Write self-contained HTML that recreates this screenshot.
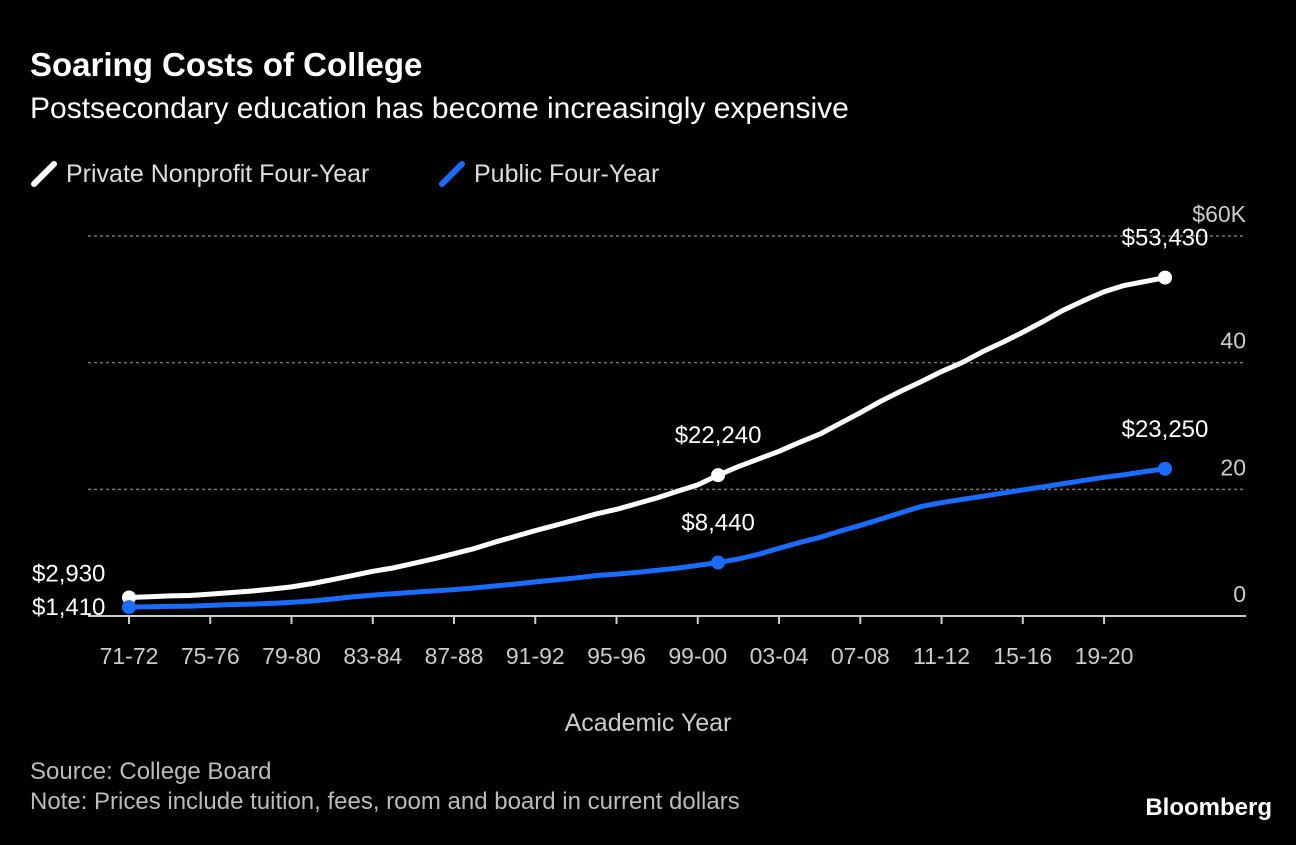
<!DOCTYPE html>
<html><head><meta charset="utf-8"><style>
body{margin:0;background:#000;width:1296px;height:840px;overflow:hidden;font-family:"Liberation Sans",sans-serif;color:#fff}
svg text{font-family:"Liberation Sans",sans-serif}
</style></head><body>
<svg width="1296" height="840">
<text x="30" y="76" font-size="33" font-weight="bold" fill="#fff">Soaring Costs of College</text>
<text x="30" y="118" font-size="30" fill="#fff">Postsecondary education has become increasingly expensive</text>
<g><line x1="34" y1="184" x2="54" y2="164" stroke="#fff" stroke-width="6" stroke-linecap="round"/><text x="66" y="182" font-size="25" fill="#ddd">Private Nonprofit Four-Year</text></g>
<g><line x1="442" y1="184" x2="462" y2="164" stroke="#1a6cff" stroke-width="6" stroke-linecap="round"/><text x="474" y="182" font-size="25" fill="#ddd">Public Four-Year</text></g>
<g id="grid"></g><g id="xaxis"></g><g id="series"></g>
<text x="648" y="731" font-size="25" fill="#ccc" text-anchor="middle">Academic Year</text>
<text x="30" y="779" font-size="24" fill="#bbb">Source: College Board</text>
<text x="30" y="809" font-size="24" fill="#bbb">Note: Prices include tuition, fees, room and board in current dollars</text>
<text x="1272" y="815" font-size="24" font-weight="bold" fill="#fff" text-anchor="end">Bloomberg</text>
</svg>
<script>
const privateVals=[2930,3030,3170,3240,3460,3690,3930,4240,4600,5110,5730,6390,7060,7580,8300,9030,9840,10650,11650,12560,13480,14330,15220,16120,16840,17740,18650,19700,20700,22240,23600,24800,26000,27400,28700,30400,32100,33900,35500,37000,38600,40000,41700,43200,44800,46500,48300,49800,51200,52200,52800,53430];
const publicVals=[1410,1460,1520,1560,1670,1790,1880,1990,2150,2370,2690,3020,3300,3520,3750,3960,4170,4430,4730,5040,5390,5700,6010,6390,6620,6880,7220,7560,7990,8440,9000,9750,10700,11600,12400,13400,14300,15300,16300,17300,17900,18400,18900,19400,19900,20400,20900,21400,21900,22300,22800,23250];
const yTicks=[0,20000,40000,60000];
const yTickLabels=["0","20","40","$60K"];
const xLabels=["71-72","75-76","79-80","83-84","87-88","91-92","95-96","99-00","03-04","07-08","11-12","15-16","19-20"];
const annotations=[{s:"private",i:0,t:"$2,930"},{s:"private",i:29,t:"$22,240"},{s:"private",i:51,t:"$53,430"},{s:"public",i:0,t:"$1,410"},{s:"public",i:29,t:"$8,440"},{s:"public",i:51,t:"$23,250"}];
const NS="http://www.w3.org/2000/svg";
const x=i=>129+i*(1036/51);
const y=v=>616-v*(380/60000);
function mk(tag,attrs,parent){const e=document.createElementNS(NS,tag);for(const k in attrs)e.setAttribute(k,attrs[k]);parent.appendChild(e);return e;}
const grid=document.getElementById('grid');
yTicks.forEach((v,k)=>{
 if(v>0){const l=mk('line',{x1:88,x2:1246,y1:y(v),y2:y(v),stroke:'#777','stroke-dasharray':'3,3','stroke-width':1.5},grid);
 
 }
 const t=mk('text',{x:1246,y:y(v)-14,'font-size':23,fill:'#ccc','text-anchor':'end'},grid);t.textContent=yTickLabels[k];
 
 
});
const xa=document.getElementById('xaxis');
const ax=mk('line',{x1:88,x2:1246,y1:616,y2:616,stroke:'#ccc','stroke-width':2},xa);


xLabels.forEach((lab,k)=>{
 const xi=x(k*4);
 const tk=mk('line',{x1:xi,x2:xi,y1:616,y2:624,stroke:'#ccc','stroke-width':2},xa);
 
 
 const t=mk('text',{x:xi,y:664,'font-size':23,fill:'#ccc','text-anchor':'middle'},xa);t.textContent=lab;
 
 
});
const sg=document.getElementById('series');
const ser={private:{v:privateVals,c:'#fff'},public:{v:publicVals,c:'#1a6cff'}};
for(const key of ['public','private']){
 const s=ser[key];
 const p=mk('polyline',{points:s.v.map((v,i)=>x(i)+','+y(v)).join(' '),fill:'none',stroke:s.c,'stroke-width':5,'stroke-linejoin':'round'},sg);
 
 
}
annotations.forEach(a=>{
 const s=ser[a.s];const cx=x(a.i),cy=y(s.v[a.i]);
 const c=mk('circle',{cx:cx,cy:cy,r:7,fill:s.c},sg);
 
 
 let tx=cx,ty=cy-32,anc='middle';
 if(a.i===0){tx=32;anc='start';ty=a.s==='private'?cy-16:cy+8;}
 const t=mk('text',{x:tx,y:ty,'font-size':24,fill:'#fff','text-anchor':anc},sg);t.textContent=a.t;
 
 
});
</script>
</body></html>
